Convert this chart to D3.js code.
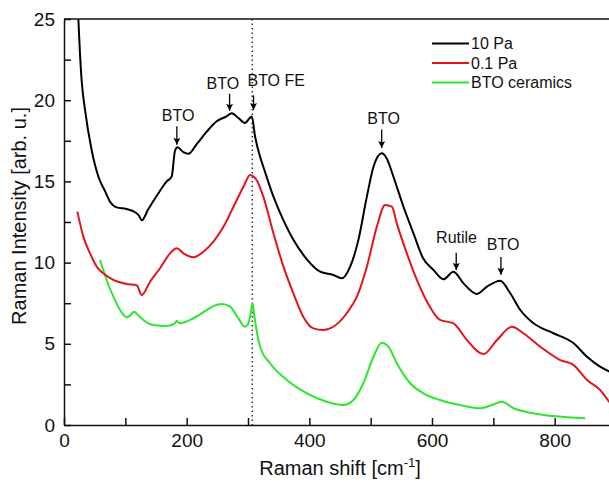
<!DOCTYPE html>
<html>
<head>
<meta charset="utf-8">
<script src="https://cdn.jsdelivr.net/npm/d3@7"></script>
<style>
  body { margin: 0; background: #fff; }
  svg { display: block; font-family: "Liberation Sans", Arial, sans-serif; }
</style>
</head>
<body>
<div class="layout"></div>
<script>
// spectra, [Raman shift, intensity]
var pa10 = [[20, 27.5], [23.4, 25], [26, 22.9], [28.8, 21.2], [34.3, 19.4], [45.2, 16.9],
  [56, 15.3], [66.9, 14.4], [75, 13.75], [86, 13.4], [102, 13.3], [116, 13.1], [122, 12.9],
  [126.7, 12.6], [137.6, 13.3], [151, 14.1], [167.5, 15.0], [175.6, 15.3], [181, 16.9],
  [185, 17.1], [194.7, 16.8], [202.8, 16.7], [216.4, 17.3], [232.7, 18.06], [249, 18.7],
  [265, 19.0], [273.5, 19.2], [284.4, 18.9], [295, 18.6], [306.2, 19.0], [311.6, 17.75],
  [319.8, 16.5], [325, 15.9], [341.5, 14.06], [357.8, 12.6], [374, 11.4], [396, 10.2],
  [417.6, 9.44], [439, 9.24], [453, 9.03], [466.6, 9.75], [480, 11.4], [493.8, 14.06],
  [504.6, 15.9], [518, 16.73], [526.4, 16.4], [537, 15.3], [553.5, 13.44], [569.8, 11.8],
  [585, 10.3], [602.5, 9.54], [618.8, 8.97], [635, 9.44], [651.4, 8.72], [673, 8.07],
  [689.6, 8.52], [711.3, 8.89], [727.6, 8.11], [744, 7.08], [765.6, 6.26], [798, 5.65],
  [831, 5.03], [852.7, 4.2], [874, 3.59], [895, 3.2]]

var pa01 = [[21.8, 13.14], [31.5, 11.6], [42.4, 10.57], [53.3, 9.75], [64.1, 9.34],
  [80.5, 8.93], [102, 8.68], [118.6, 8.6], [126.7, 8.0], [140.3, 8.82], [156.6, 9.65],
  [173, 10.57], [183.8, 10.88], [194.7, 10.57], [211, 10.33], [227.3, 10.67], [243.6, 11.29],
  [260, 12.2], [276.3, 13.44], [292.6, 14.67], [303.4, 15.4], [314, 15.09], [325, 14.06],
  [341.5, 11.8], [357.8, 9.75], [374, 8.1], [390, 6.67], [406.7, 5.95], [423, 5.85],
  [439, 6.05], [461, 6.88], [477.5, 7.9], [493.8, 9.75], [510, 12.2], [523.6, 13.55],
  [534.6, 13.44], [542.7, 12.4], [559, 10.57], [575.4, 8.93], [591.7, 7.6], [613, 6.47],
  [635, 6.26], [657, 5.23], [684, 4.37], [706, 5.23], [730.3, 6.05], [749, 5.65],
  [776.5, 4.82], [809, 4.0], [831, 3.69], [852.7, 2.77], [874, 2.16], [889, 1.43], [900, 1.0]]

var ceramics = [[58.7, 10.16], [69.6, 8.93], [80.5, 7.9], [91.4, 7.08], [102, 6.63],
  [108, 6.75], [114.2, 6.98], [120, 6.8], [129.4, 6.47], [145.7, 6.16], [167.5, 6.1],
  [181, 6.26], [183.8, 6.42], [189.2, 6.26], [211, 6.57], [232.7, 7.08], [245, 7.35],
  [257.2, 7.45], [270.7, 7.29], [284.4, 6.57], [295.2, 6.05], [300, 6.2], [303.5, 6.7],
  [307.5, 7.5], [310, 6.8], [313, 6.05], [319.7, 4.82], [336, 3.8], [363.3, 2.77],
  [396, 1.95], [428.5, 1.43], [455.6, 1.23], [472, 1.54], [488, 2.57], [504.6, 4.2],
  [518, 5.07], [529, 4.82], [542.7, 3.8], [564.4, 2.57], [586, 1.95], [613, 1.54],
  [646, 1.23], [678.6, 1.03], [697.7, 1.23], [714, 1.43], [733, 1.03], [760, 0.76],
  [798, 0.55], [850, 0.41]]

var seriesNames = ["10 Pa", "0.1 Pa", "BTO ceramics"]
var seriesColors = ["#000000", "#e3141b", "#2ee62e"]

var xTicks = [0, 100, 200, 300, 400, 500, 600, 700, 800, 900]
var yTicks = [0, 2.5, 5, 7.5, 10, 12.5, 15, 17.5, 20, 22.5, 25]

// peak labels: text, arrow x, text y, arrow top, arrow tip (data units)
var peakLabels = ["BTO", "BTO", "BTO FE", "BTO", "Rutile", "BTO"]
var peakTextX = [186, 259, 346, 521, 640, 716]
var peakArrowX = [184, 270, 309, 518, 639.5, 712.4]
var peakTextY = [19.1, 21.05, 21.2, 18.9, 11.55, 11.15]
var peakArrowTop = [18.4, 20.4, 20.3, 18.2, 10.6, 10.35]
var peakArrowBottom = [17.25, 19.35, 19.4, 17.05, 9.55, 9.25]

var feLine = 307

function makeChart () {
  var width = 609
  var height = 482
  var left = 64, top = 19, bottom = 425, right = 616

  var svg = d3.select("div.layout")
    .append("svg")
    .attr("width", width)
    .attr("height", height)

  const x = d3.scaleLinear().domain([0, 900]).range([left, right])
  const y = d3.scaleLinear().domain([0, 25]).range([bottom, top])

  svg.append("defs").append("clipPath")
    .attr("id", "plotClip")
    .append("rect")
    .attr("x", left).attr("y", top)
    .attr("width", right - left).attr("height", bottom - top)

  // arrow head pointing along the line
  svg.select("defs").append("marker")
    .attr("id", "arrowHead")
    .attr("viewBox", "0 0 10 10")
    .attr("refX", 10).attr("refY", 5)
    .attr("markerWidth", 9).attr("markerHeight", 7)
    .attr("markerUnits", "userSpaceOnUse")
    .attr("orient", "auto")
    .append("path")
    .attr("d", "M0,0 L10,5 L0,10 L2,5 Z")
    .attr("fill", "#000")

  // dotted line at the FE mode
  svg.append("line")
    .attr("x1", x(feLine)).attr("x2", x(feLine))
    .attr("y1", top).attr("y2", bottom)
    .attr("stroke", "#333")
    .attr("stroke-width", 1.5)
    .attr("stroke-dasharray", "1.5,3")

  const line = d3.line()
    .x(function (d) { return x(d[0]) })
    .y(function (d) { return y(d[1]) })
    .curve(d3.curveMonotoneX)

  var curves = svg.append("g").attr("clip-path", "url(#plotClip)")
  ;[ceramics, pa01, pa10].forEach(function (data, i) {
    curves.append("path")
      .datum(data)
      .attr("d", line)
      .attr("fill", "none")
      .attr("stroke", seriesColors[2 - i])
      .attr("stroke-width", 2)
      .attr("stroke-linejoin", "round")
  })

  // axes with inward ticks
  svg.append("g")
    .attr("class", "xAxis")
    .attr("transform", "translate(0," + bottom + ")")
    .call(d3.axisBottom(x)
      .tickValues(xTicks)
      .tickSizeInner(-7).tickSizeOuter(0)
      .tickPadding(9)
      .tickFormat(function (d) { return d % 200 === 0 ? d : "" }))

  svg.append("g")
    .attr("class", "yAxis")
    .attr("transform", "translate(" + left + ",0)")
    .call(d3.axisLeft(y)
      .tickValues(yTicks)
      .tickSizeInner(-7).tickSizeOuter(0)
      .tickPadding(9)
      .tickFormat(function (d) { return d % 5 === 0 ? d : "" }))

  svg.selectAll(".xAxis text, .yAxis text")
    .attr("font-size", 19)
    .attr("font-family", "Liberation Sans, Arial, sans-serif")
    .attr("fill", "#111")
  svg.selectAll(".xAxis path, .yAxis path, .xAxis line, .yAxis line")
    .attr("stroke", "#111")
    .attr("stroke-width", 1.5)

  // top frame
  svg.append("line")
    .attr("x1", left).attr("x2", right)
    .attr("y1", top).attr("y2", top)
    .attr("stroke", "#111").attr("stroke-width", 1.5)

  // axis titles
  var xTitle = svg.append("text")
    .attr("x", 340).attr("y", 475)
    .attr("text-anchor", "middle")
    .attr("font-size", 20)
    .attr("fill", "#111")
  xTitle.append("tspan").text("Raman shift [cm")
  xTitle.append("tspan").attr("font-size", 13).attr("dy", -8).text("-1")
  xTitle.append("tspan").attr("dy", 8).text("]")

  svg.append("text")
    .attr("transform", "translate(26," + ((top + bottom) / 2 - 6) + ") rotate(-90)")
    .attr("text-anchor", "middle")
    .attr("font-size", 20)
    .attr("fill", "#111")
    .text("Raman Intensity [arb. u.]")

  // peak labels with arrows
  peakLabels.forEach(function (label, i) {
    svg.append("text")
      .attr("x", x(peakTextX[i]))
      .attr("y", y(peakTextY[i]))
      .attr("dy", "0.36em")
      .attr("text-anchor", "middle")
      .attr("font-size", 16)
      .attr("fill", "#111")
      .text(label)

    svg.append("line")
      .attr("x1", x(peakArrowX[i])).attr("x2", x(peakArrowX[i]))
      .attr("y1", y(peakArrowTop[i])).attr("y2", y(peakArrowBottom[i]))
      .attr("stroke", "#000")
      .attr("stroke-width", 1.3)
      .attr("marker-end", "url(#arrowHead)")
  })

  // legend
  var legend = svg.append("g").attr("class", "legend")
  seriesNames.forEach(function (name, i) {
    var ly = 43.5 + i * 19.5
    legend.append("line")
      .attr("x1", 432).attr("x2", 469)
      .attr("y1", ly).attr("y2", ly)
      .attr("stroke", seriesColors[i])
      .attr("stroke-width", 2)
    legend.append("text")
      .attr("x", 471).attr("y", ly)
      .attr("dy", "0.36em")
      .attr("font-size", 16)
      .attr("fill", "#111")
      .text(name)
  })
}

makeChart()
</script>
</body>
</html>
